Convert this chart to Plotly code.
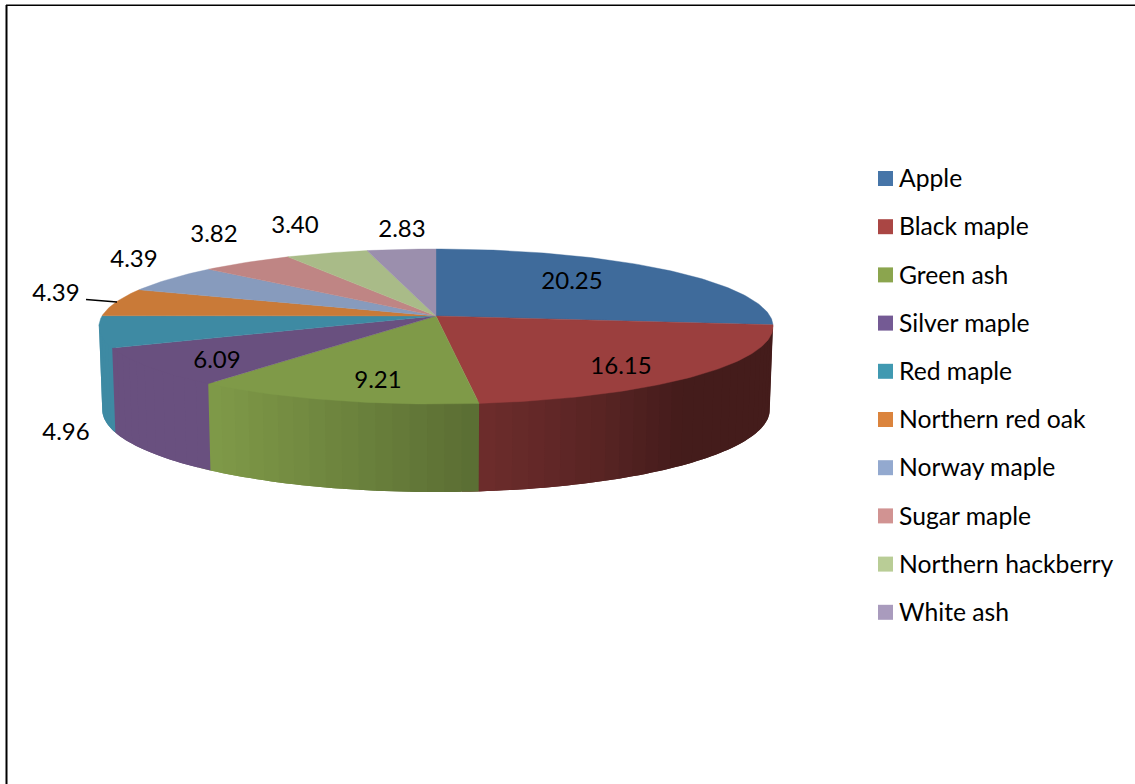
import numpy as np
import plotly.graph_objects as go

NAMES = ["Apple", "Black maple", "Green ash", "Silver maple", "Red maple",
         "Northern red oak", "Norway maple", "Sugar maple", "Northern hackberry", "White ash"]
VALUES = [20.25, 16.15, 9.21, 6.09, 4.96, 4.39, 4.39, 3.82, 3.40, 2.83]

TOP_COLORS = ["#3f6b9b", "#9b3f3e", "#7f9a48", "#69507f", "#3e8aa3",
              "#c97a38", "#879bbd", "#bf8584", "#a9bb88", "#9b8fad"]
LEGEND_COLORS = ["#4675a8", "#aa4644", "#8ba54e", "#745a94", "#4099b1",
                 "#db843d", "#93a9cf", "#d19392", "#b9cd96", "#a99bbd"]
LABEL_X = [572, 621, 378, 217, 66, 56, 134, 214, 295, 402]
LABEL_Y = [282.5, 367.5, 381.5, 361.5, 433.5, 295, 260.5, 235.5, 226.5, 230.5]

W, H = 1135, 784
CX, CY, A, B, K = 436.0, 316.0, 76.1, 334.0, 0.1355
FONT = "Lato"
LABEL_SIZE = 24
LEGEND_SIZE = 24.7
INK = "#000000"


def top_pt(theta):
    u, v = np.sin(theta), np.cos(theta)
    d = 1 + K * v
    return CX + B * u / d, CY - A * v / d


def bottom_pt(theta):
    x, y = top_pt(theta)
    v = np.cos(theta)
    return CX + (x - CX) * 0.99, y + 82.4 / (1 + 0.064 * v)


def shade(x):
    return float(np.interp(x, [210, 478, 600, 680], [1.0, 0.71, 0.57, 0.44]))


def scaled(hex_color, f):
    r, g, b = [int(hex_color[i:i + 2], 16) for i in (1, 3, 5)]
    return f"rgb({r * f:.0f},{g * f:.0f},{b * f:.0f})"


total = sum(VALUES)
edges = np.concatenate([[0], np.cumsum(VALUES)]) / total * 2 * np.pi
LEFT_LIMIT, RIGHT_LIMIT = np.radians(262.2), np.radians(97.8)

fig = go.Figure()

# side wall: each strip runs on under the next one and tucks under the top face
for i in range(len(VALUES)):
    start = max(edges[i], RIGHT_LIMIT)
    end = min(edges[i + 1], LEFT_LIMIT)
    if end <= start:
        continue
    n = max(1, int(np.degrees(end - start) / 2.5))
    cuts = np.linspace(start, end, n + 1)
    step = cuts[1] - cuts[0]
    for t0, t1 in zip(cuts[:-1], cuts[1:]):
        ts = np.linspace(t0, min(t1 + step, LEFT_LIMIT), 5)
        xt, yt = top_pt(ts)
        xb, yb = bottom_pt(ts[::-1])
        xm = float(top_pt((t0 + t1) / 2)[0])
        fig.add_trace(go.Scatter(
            x=np.concatenate([xt, xb]), y=np.concatenate([yt - 3, yb]),
            mode="none", fill="toself", fillcolor=scaled(TOP_COLORS[i], shade(xm)),
            hoverinfo="skip"))

# top faces
for i in range(len(VALUES)):
    ts = np.linspace(edges[i], edges[i + 1], max(12, int(np.degrees(edges[i + 1] - edges[i]))))
    xt, yt = top_pt(ts)
    fig.add_trace(go.Scatter(
        x=np.concatenate([[CX], xt, [CX]]), y=np.concatenate([[CY], yt, [CY]]),
        mode="lines", fill="toself", fillcolor=TOP_COLORS[i],
        line=dict(color=TOP_COLORS[i], width=0.4), hoverinfo="skip"))

# leader line of the first 4.39 label
fig.add_trace(go.Scatter(x=[86, 117], y=[299.5, 302], mode="lines",
                         line=dict(color="black", width=1.4), hoverinfo="skip"))

# data labels
fig.add_trace(go.Scatter(
    x=LABEL_X, y=LABEL_Y, mode="text", text=[f"{v:.2f}" for v in VALUES],
    textposition="middle center", textfont=dict(family=FONT, size=LABEL_SIZE, color=INK),
    hoverinfo="skip"))

# legend
rows = np.arange(len(NAMES))
fig.add_trace(go.Scatter(
    x=[885.5] * len(NAMES), y=178.5 + rows * 48.2, mode="markers",
    marker=dict(symbol="square", size=15, color=LEGEND_COLORS, line=dict(width=0)),
    hoverinfo="skip"))
fig.add_trace(go.Scatter(
    x=[899] * len(NAMES), y=181 + rows * 48.2, mode="text", text=NAMES,
    textposition="middle right", textfont=dict(family=FONT, size=LEGEND_SIZE, color=INK),
    hoverinfo="skip"))

fig.update_layout(
    width=W, height=H, margin=dict(l=0, r=0, t=0, b=0),
    paper_bgcolor="white", plot_bgcolor="white", showlegend=False,
    xaxis=dict(range=[0, W], visible=False, fixedrange=True),
    yaxis=dict(range=[H, 0], visible=False, fixedrange=True),
    shapes=[
        dict(type="line", xref="x", yref="y", x0=6.5, x1=6.5, y0=5, y1=H, line=dict(color="black", width=2)),
        dict(type="line", xref="x", yref="y", x0=6, x1=W, y0=5.3, y1=5.3, line=dict(color="black", width=1.5)),
    ],
)

fig.write_html("out.html", config={"displayModeBar": False},
               post_script="document.body.style.margin='0';document.body.style.overflow='hidden';")
